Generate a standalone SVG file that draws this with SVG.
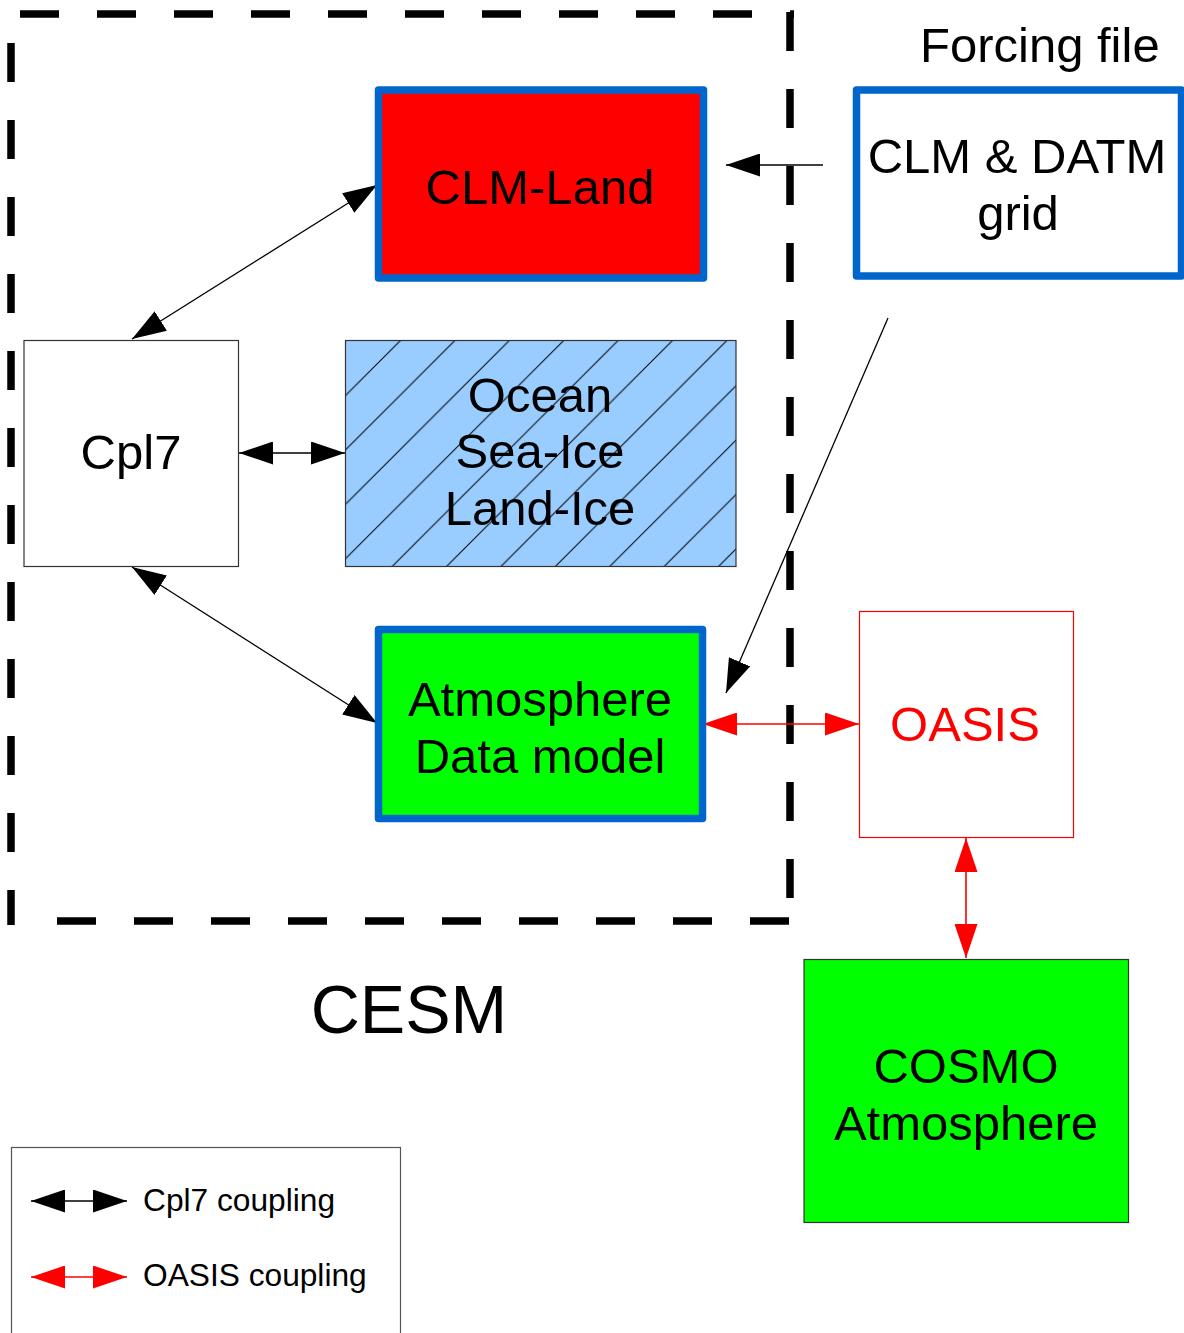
<svg xmlns="http://www.w3.org/2000/svg" width="1184" height="1333" viewBox="0 0 1184 1333">
<style>
text{font-family:"Liberation Sans",Arial,sans-serif;font-size:49px;fill:#000;text-anchor:middle}
.frame{stroke:#000;stroke-width:7.5;stroke-dasharray:39 38;fill:none}
.blue{stroke:#0066cc;stroke-width:7.5;stroke-linejoin:round}
.thin{stroke:#333;stroke-width:1.2}
.blk{stroke:#000;stroke-width:1.3;fill:none;marker-start:url(#ab);marker-end:url(#ab)}
.red{stroke:#ff0000;stroke-width:1.6;fill:none;marker-start:url(#ar);marker-end:url(#ar)}
</style>
<defs>
<marker id="ab" markerUnits="userSpaceOnUse" markerWidth="34" markerHeight="23" refX="34" refY="11.5" orient="auto-start-reverse" viewBox="0 0 34 23"><path d="M0,0 L34,11.5 L0,23 Z" fill="#000"/></marker>
<marker id="ar" markerUnits="userSpaceOnUse" markerWidth="34" markerHeight="23" refX="34" refY="11.5" orient="auto-start-reverse" viewBox="0 0 34 23"><path d="M0,0 L34,11.5 L0,23 Z" fill="#ff0000"/></marker>
<pattern id="hatch" patternUnits="userSpaceOnUse" x="33.8" y="0" width="54.4" height="54.4">
<rect width="54.4" height="54.4" fill="#99ccff"/>
<path d="M-1,1 L1,-1 M0,54.4 L54.4,0 M53.4,55.4 L55.4,53.4" stroke="#000" stroke-width="1"/>
</pattern>
</defs>
<rect width="1184" height="1333" fill="#fff"/>
<g id="cesm-frame">
<line class="frame" x1="20" y1="14" x2="794" y2="14"/>
<line class="frame" x1="790" y1="12" x2="790" y2="921"/>
<line class="frame" x1="57" y1="921" x2="790" y2="921"/>
<line class="frame" x1="11" y1="43" x2="11" y2="925"/>
</g>
<g id="connectors">
<line class="blk" x1="132" y1="339" x2="377" y2="185"/>
<line class="blk" x1="239" y1="453" x2="345" y2="453"/>
<line class="blk" x1="132" y1="567" x2="377" y2="723"/>
<line x1="823" y1="165" x2="726" y2="165" stroke="#000" stroke-width="1.3" marker-end="url(#ab)"/>
<line x1="888" y1="318" x2="726" y2="693" stroke="#000" stroke-width="1.3" marker-end="url(#ab)"/>
<line class="red" x1="703" y1="724" x2="859" y2="724"/>
<line class="red" x1="966" y1="838" x2="966" y2="958"/>
</g>
<g id="clm-land">
<rect class="blue" x="378.5" y="90" width="325" height="188" fill="#ff0000"/>
<text x="540" y="204">CLM-Land</text>
</g>
<g id="forcing">
<text x="920" y="62" style="text-anchor:start">Forcing file</text>
<rect class="blue" x="856.5" y="90" width="325" height="186" fill="#fff"/>
<text x="1017" y="173">CLM &amp; DATM</text>
<text x="1018" y="230">grid</text>
</g>
<g id="cpl7">
<rect class="thin" x="24" y="340.5" width="214.5" height="226" fill="#fff"/>
<text x="131" y="469">Cpl7</text>
</g>
<g id="ocean">
<rect class="thin" x="345.5" y="340.5" width="390.5" height="226" fill="url(#hatch)"/>
<text x="540" y="412">Ocean</text>
<text x="540" y="468">Sea-Ice</text>
<text x="540" y="525">Land-Ice</text>
</g>
<g id="atmosphere-data">
<rect class="blue" x="378.5" y="629.5" width="324" height="189" fill="#00ff00"/>
<text x="540" y="716">Atmosphere</text>
<text x="540" y="773">Data model</text>
</g>
<g id="oasis">
<rect x="859.5" y="611.5" width="214" height="226" fill="#fff" stroke="#ff0000" stroke-width="1.2"/>
<text x="965" y="741" style="fill:#ff0000">OASIS</text>
</g>
<g id="cosmo">
<rect class="thin" x="804" y="959.5" width="324.5" height="263" fill="#00ff00"/>
<text x="966" y="1083">COSMO</text>
<text x="966" y="1140">Atmosphere</text>
</g>
<text id="cesm-label" x="409" y="1033" style="font-size:68px">CESM</text>
<g id="legend">
<rect x="11.5" y="1147.5" width="389" height="200" fill="none" stroke="#555" stroke-width="1.2"/>
<line class="blk" x1="31" y1="1201" x2="127" y2="1201"/>
<line class="red" x1="31" y1="1277" x2="127" y2="1277"/>
<text x="143" y="1211" style="font-size:31.7px;text-anchor:start">Cpl7 coupling</text>
<text x="143" y="1286" style="font-size:31.7px;text-anchor:start">OASIS coupling</text>
</g>
</svg>
